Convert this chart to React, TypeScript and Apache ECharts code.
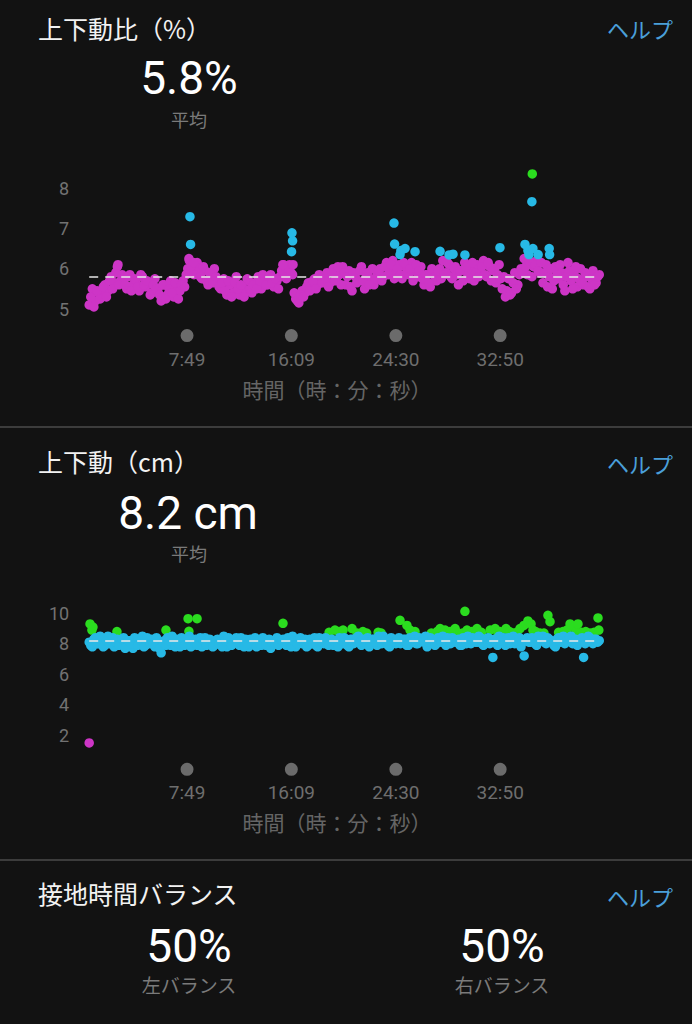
import React, { useEffect, useRef } from "react";
import * as echarts from "echarts";

// ---- shared time axis ----
const durationSec = 2450;
const sampleStep = 15; // seconds between samples of each band stream
const sampleOffsetB = 7.5; // second stream sampled half a step later
const tickSeconds = [469, 969, 1470, 1970];

// ---- 上下動比 (%) ----
const ratioAvg = 5.8;
const ratioTicks = [5, 6, 7, 8];
const ratioZones = [6.3, 8.0];
const ratioBand = [
  5.1, 5.5, 5.2, 5.4,
  5.35, 5.6, 5.45, 5.8, 5.65, 6.05, 5.7,
  5.75, 5.5, 5.85, 5.6, 5.7, 5.45, 5.8, 5.55, 5.65, 5.4, 5.75,
  5.5, 5.2, 5.6, 5.35, 5.7, 5.3, 5.55, 5.45,
  5.7, 5.85, 6.2,
  6.1, 5.9, 6.0, 5.75, 5.95, 5.6, 5.85, 6.0, 5.7,
  5.5, 5.75, 5.35, 5.6, 5.4, 5.8, 5.35, 5.55, 5.45, 5.7, 5.4,
  5.65, 5.8, 5.5, 5.75, 5.6, 5.85, 5.55, 5.7, 5.8,
  6.1, 5.75, 6.1,
  5.85, 5.25, 5.15, 5.45,
  5.4, 5.65, 5.55, 5.75, 5.6, 5.8, 5.7, 5.9, 5.65, 6.0, 5.75, 5.85, 6.05,
  5.6, 5.95, 5.45, 5.8, 5.7, 6.05, 5.5, 5.9, 5.75, 5.6, 5.85,
  6.0, 5.8, 6.15, 5.95, 6.2, 5.9, 6.1, 5.75, 6.05, 5.85, 6.15, 5.95, 5.8, 6.05,
  5.6, 5.85, 5.55, 5.95, 5.7, 6.0,
  6.2, 5.9, 6.1, 5.75, 6.05, 5.6, 5.95, 6.15, 5.85, 6.0, 5.7, 6.1, 5.9, 6.2, 5.8, 6.05, 5.95, 5.65, 6.1,
  5.5, 5.3, 5.75, 5.4, 5.9, 5.6,
  6.0, 6.25, 5.85, 6.15, 6.05, 6.2, 5.9,
  5.65, 6.1, 5.8, 5.5, 6.05, 5.75, 5.9, 5.45, 6.15, 5.7, 5.85, 5.55, 6.0, 5.6, 5.8, 5.5, 5.95, 5.65, 5.85,
];
const ratioBandB = [
  5.3, 5.05, 5.45, 5.25,
  5.55, 5.3, 5.7, 5.5, 5.9, 5.6, 5.85,
  5.6, 5.8, 5.45, 5.75, 5.55, 5.85, 5.6, 5.7, 5.35, 5.6, 5.5,
  5.35, 5.6, 5.25, 5.5, 5.4, 5.65, 5.25, 5.6,
  5.55, 6.0, 6.05,
  5.85, 6.15, 5.8, 6.05, 5.7, 5.9, 5.65, 5.8, 5.55,
  5.65, 5.45, 5.7, 5.3, 5.65, 5.5, 5.6, 5.3, 5.75, 5.5, 5.6,
  5.5, 5.7, 5.85, 5.6, 5.8, 5.65, 5.75, 5.5, 5.95,
  5.85, 6.0, 5.9,
  5.4, 5.2, 5.35, 5.3,
  5.55, 5.45, 5.7, 5.5, 5.85, 5.65, 5.75, 5.55, 5.9, 5.7, 6.05, 5.6, 5.9,
  5.8, 5.55, 5.9, 5.65, 5.95, 5.7, 5.85, 5.6, 6.0, 5.75, 5.95,
  5.7, 6.05, 5.85, 6.1, 5.75, 6.0, 5.85, 6.15, 5.9, 6.0, 5.7, 6.1, 5.95, 5.75,
  5.85, 5.65, 6.0, 5.8, 5.95, 5.75,
  5.85, 6.15, 5.8, 6.0, 5.85, 5.95, 5.7, 6.05, 5.75, 6.15, 5.9, 5.8, 6.05, 5.85, 6.15, 5.7, 6.0, 5.85, 5.75,
  5.8, 5.45, 5.35, 5.65, 5.5, 5.85,
  5.9, 6.05, 6.2, 5.8, 6.1, 5.95, 6.15,
  5.9, 5.55, 6.0, 5.7, 5.85, 6.1, 5.6, 5.8, 5.95, 5.5, 6.05, 5.75, 5.65, 5.9, 5.55, 5.75, 5.6, 5.8,
];
const ratioExtra: [number, number][] = [
  [138, 6.1], [478, 6.25], [483, 7.29], [486, 6.6], [500, 6.15],
  [929, 6.1], [970, 6.42], [972, 6.89], [975, 6.69], [977, 6.1],
  [1461, 7.13], [1464, 6.61], [1490, 6.35], [1494, 6.45], [1514, 6.5], [1562, 6.42],
  [1682, 6.43], [1725, 6.34], [1744, 6.36], [1801, 6.34], [1969, 6.52],
  [2089, 6.6], [2103, 6.45], [2108, 6.35], [2122, 7.66], [2124, 8.35], [2127, 6.5],
  [2152, 6.35], [2205, 6.5], [2207, 6.35],
];

// ---- 上下動 (cm) ----
const oscAvg = 8.2;
const oscTicks = [2, 4, 6, 8, 10];
const oscZones = [6.7, 8.6];
const oscBand = [
  8.1, 7.8, 8.4, 8.0, 8.3, 7.9, 8.5, 8.1, 7.8, 8.3, 8.0, 8.4, 7.9, 8.2, 7.7, 8.3, 8.0, 8.5, 7.9, 8.1,
  8.3, 7.8, 8.0, 7.4, 8.2, 8.4, 7.9, 8.1, 8.3, 7.8, 8.2, 8.0, 8.5, 7.9, 8.3, 8.1, 7.8, 8.4, 8.0, 8.2,
  7.9, 8.3, 8.1, 8.5, 7.8, 8.2, 8.0, 8.4, 7.9, 8.1, 8.3, 7.8, 8.0, 8.4, 8.2, 7.9, 8.3, 8.1, 7.7, 8.2,
  8.4, 8.0, 8.3, 7.9, 8.1, 8.5, 7.8, 8.2, 8.0, 8.3, 7.9, 8.1, 8.4, 7.8, 8.2, 8.0, 8.3, 8.1, 7.9, 8.2,
  8.4, 8.0, 8.2, 7.8, 8.3, 8.1, 8.5, 7.9, 8.2, 8.4, 8.0, 8.3, 7.9, 8.1, 8.5, 8.2, 7.8, 8.3, 8.0, 8.4,
  8.1, 8.3, 7.9, 8.2, 8.5, 8.0, 8.3, 8.1, 7.8, 8.4, 8.2, 8.0, 8.3, 8.5, 7.9, 8.2, 8.4, 8.1, 8.3, 7.9,
  8.2, 8.5, 8.0, 8.3, 8.1, 8.4, 7.9, 8.2, 8.0, 7.1, 8.3, 8.5, 8.1, 7.9, 8.4, 8.2, 8.0, 8.3, 7.8, 7.2,
  8.4, 8.1, 8.3, 7.9, 8.2, 8.5, 8.0, 8.3, 8.1, 7.8, 8.4, 8.2, 8.0, 8.3, 8.5, 8.1, 7.9, 8.3, 7.1, 8.2,
  8.4, 8.0, 8.3, 8.2,
];
const oscBandB = [
  7.9, 8.3, 8.0, 8.5, 7.8, 8.2, 8.0, 8.4, 8.1, 7.9, 8.3, 7.7, 8.2, 8.0, 8.4, 7.9, 8.2, 7.8, 8.4, 8.0,
  8.0, 8.4, 7.7, 8.1, 7.9, 8.2, 8.5, 7.8, 8.0, 8.4, 7.9, 8.3, 7.8, 8.2, 7.9, 8.4, 8.2, 7.9, 8.3, 7.8,
  8.2, 8.0, 7.8, 8.2, 8.4, 7.9, 8.3, 8.1, 8.4, 7.8, 8.0, 8.3, 8.2, 7.8, 8.0, 8.4, 7.9, 8.3, 8.1, 8.0,
  7.9, 8.2, 8.0, 8.4, 7.8, 8.2, 8.0, 8.4, 8.2, 7.8, 8.3, 8.0, 7.9, 8.4, 8.1, 8.4, 7.9, 8.3, 8.1, 7.8,
  8.2, 8.4, 7.9, 8.3, 8.0, 8.4, 8.1, 8.3, 8.0, 7.8, 8.3, 8.1, 8.5, 8.0, 8.2, 7.9, 8.4, 8.1, 8.3, 8.0,
  8.3, 7.9, 8.4, 8.1, 8.0, 8.4, 8.2, 8.5, 8.1, 8.3, 7.9, 8.4, 8.1, 8.2, 8.4, 8.0, 8.3, 8.2, 7.9, 8.4,
  8.0, 8.3, 8.4, 8.1, 8.5, 8.0, 8.3, 8.4, 8.2, 8.3, 7.9, 8.2, 8.4, 8.3, 8.0, 8.5, 8.2, 8.4, 8.1, 8.3,
  8.1, 8.4, 8.0, 8.5, 8.3, 8.1, 8.4, 8.2, 7.9, 8.3, 8.1, 8.5, 8.2, 8.4, 8.0, 8.3, 8.2, 8.4, 8.0, 8.5,
  8.2, 8.3, 8.1,
];
const oscExtra: [number, number][] = [
  [0, 1.48], [4, 9.3], [13, 8.9], [18, 9.1], [133, 8.8], [368, 8.9],
  [474, 9.65], [478, 8.82], [517, 9.65], [929, 9.34],
  [1150, 8.75], [1178, 8.9], [1198, 8.8], [1217, 8.9], [1260, 9.0], [1284, 8.7], [1312, 8.8],
  [1330, 8.7], [1385, 8.75], [1400, 8.7],
  [1490, 9.54], [1523, 9.2], [1538, 8.9], [1562, 8.8], [1640, 8.7],
  [1668, 8.8], [1682, 9.0], [1706, 8.9], [1730, 8.8], [1754, 9.0], [1769, 8.7], [1790, 8.7],
  [1801, 10.13], [1811, 8.9], [1835, 8.8], [1859, 9.0], [1880, 8.75], [1922, 8.9], [1946, 9.0],
  [1960, 8.7], [1969, 8.8], [1998, 9.0], [2015, 8.8], [2032, 8.7], [2050, 8.75], [2065, 9.0],
  [2084, 9.2], [2103, 9.5], [2118, 9.3], [2127, 8.9], [2140, 8.8], [2161, 8.7], [2180, 8.7],
  [2199, 9.87], [2209, 9.45], [2250, 8.75], [2271, 8.8], [2290, 8.9],
  [2305, 9.3], [2324, 9.1], [2334, 8.8], [2343, 9.3], [2360, 8.75], [2380, 8.8], [2401, 8.7],
  [2420, 8.75], [2439, 9.7], [2443, 8.9],
];

// ---- 接地時間バランス ----
const balanceLeft = 50;
const balanceRight = 50;

const zoneColors = ["#cd35c6", "#27b9e6", "#2bdc1f"];
const BG = "#121212";
const JP = '"Noto Sans CJK JP", sans-serif';
const NUM = 'Roboto, "Noto Sans CJK JP", sans-serif';

const fmtTime = (s: number) => `${Math.floor(s / 60)}:${String(Math.round(s) % 60).padStart(2, "0")}`;
const colorBy = (zones: number[]) => (p: any) => {
  const v = p.value[1];
  return v < zones[0] ? zoneColors[0] : v < zones[1] ? zoneColors[1] : zoneColors[2];
};
const stream = (vals: number[], offset: number) => vals.map((v, i) => [offset + i * sampleStep, v]);

function xAxisCfg(gridIndex: number) {
  return {
    type: "value",
    gridIndex,
    min: 0,
    max: durationSec,
    axisLine: { show: false },
    axisTick: { show: false },
    splitLine: { show: false },
    axisLabel: {
      customValues: tickSeconds,
      margin: 8,
      formatter: (v: number) => `{d| }\n{t|${fmtTime(v)}}`,
      rich: {
        d: { width: 13, height: 13, borderRadius: 6.5, backgroundColor: "#6b6b6b", lineHeight: 13 },
        t: { fontSize: 19, color: "#6e6e6e", fontFamily: NUM, lineHeight: 34 },
      },
    },
  };
}
function yAxisCfg(gridIndex: number, min: number, max: number, ticks: number[]) {
  return {
    type: "value",
    gridIndex,
    min,
    max,
    axisLine: { show: false },
    axisTick: { show: false },
    splitLine: { show: false },
    axisLabel: { customValues: ticks, margin: 20, color: "#727272", fontSize: 18, fontFamily: NUM },
  };
}
function avgLine(v: number) {
  return {
    silent: true,
    symbol: ["none", "none"],
    label: { show: false },
    lineStyle: { color: "#e8e8e8", type: [9, 7], width: 1.5, opacity: 1 },
    data: [{ yAxis: v }],
    z: 10,
  };
}
function scatter(gridIdx: number, data: any[], zones: number[], extra: any = {}) {
  return {
    type: "scatter",
    xAxisIndex: gridIdx,
    yAxisIndex: gridIdx,
    symbolSize: 9.5,
    data,
    itemStyle: { color: colorBy(zones), opacity: 1 },
    ...extra,
  };
}

function txt(text: string, x: number, y: number, size: number, fill: string, align = "left", font = JP, lh?: number) {
  return {
    type: "text",
    x,
    y,
    style: {
      text,
      fill,
      fontSize: size,
      fontFamily: font,
      lineHeight: lh ?? Math.round(size * 1.1),
      align,
      verticalAlign: "middle",
      textAlign: align,
      textVerticalAlign: "middle",
    },
  };
}

export default function App() {
  const ref = useRef<HTMLDivElement>(null);
  useEffect(() => {
    if (!ref.current) return;
    const chart = echarts.init(ref.current, null, { renderer: "svg" });
    const help = "#4a9fd9";
    const white = "#f2f2f2";
    const gray = "#7a7a7a";
    const axisTitle = "#656565";
    chart.setOption({
      animation: false,
      backgroundColor: BG,
      grid: [
        { left: 89.2, width: 511.1, top: 163.8, height: 157.3 },
        { left: 89.2, width: 511.1, top: 598.1, height: 156.7 },
      ],
      xAxis: [xAxisCfg(0), xAxisCfg(1)],
      yAxis: [yAxisCfg(0, 4.7, 8.6, ratioTicks), yAxisCfg(1, 0.7, 11, oscTicks)],
      series: [
        scatter(0, stream(ratioBand, 0), ratioZones),
        scatter(0, stream(ratioBandB, sampleOffsetB), ratioZones),
        scatter(0, ratioExtra, ratioZones, { markLine: avgLine(ratioAvg) }),
        scatter(1, oscExtra, oscZones),
        scatter(1, stream(oscBand, 0), oscZones),
        scatter(1, stream(oscBandB, sampleOffsetB), oscZones, { markLine: avgLine(oscAvg) }),
      ],
      graphic: [
        txt("上下動比（%）", 38, 28, 25, white),
        txt("ヘルプ", 673, 28, 22, help, "right"),
        txt(`${ratioAvg.toFixed(1)}%`, 189, 78, 46, "#ffffff", "center", NUM, 36),
        txt("平均", 189, 119, 18, gray, "center", JP, 18),
        txt("時間（時：分：秒）", 337, 389, 21, axisTitle, "center"),
        { type: "rect", shape: { x: 0, y: 426, width: 692, height: 2 }, style: { fill: "#3c3c3c" } },
        txt("上下動（cm）", 38, 461, 25, white),
        txt("ヘルプ", 673, 463, 22, help, "right"),
        txt(`${oscAvg.toFixed(1)} cm`, 188, 513, 46, "#ffffff", "center", NUM, 36),
        txt("平均", 189, 553, 18, gray, "center", JP, 18),
        txt("時間（時：分：秒）", 337, 822, 21, axisTitle, "center"),
        { type: "rect", shape: { x: 0, y: 859, width: 692, height: 2 }, style: { fill: "#3c3c3c" } },
        txt("接地時間バランス", 38, 893, 25, white),
        txt("ヘルプ", 673, 896, 22, help, "right"),
        txt(`${balanceLeft}%`, 189, 946, 46, "#ffffff", "center", NUM, 36),
        txt("左バランス", 189, 984, 19, gray, "center"),
        txt(`${balanceRight}%`, 502, 946, 46, "#ffffff", "center", NUM, 36),
        txt("右バランス", 502, 984, 19, gray, "center"),
      ],
    });
    return () => chart.dispose();
  }, []);
  return (
    <div
      ref={ref}
      style={{ position: "fixed", left: 0, top: 0, width: 692, height: 1024, background: BG }}
    />
  );
}
